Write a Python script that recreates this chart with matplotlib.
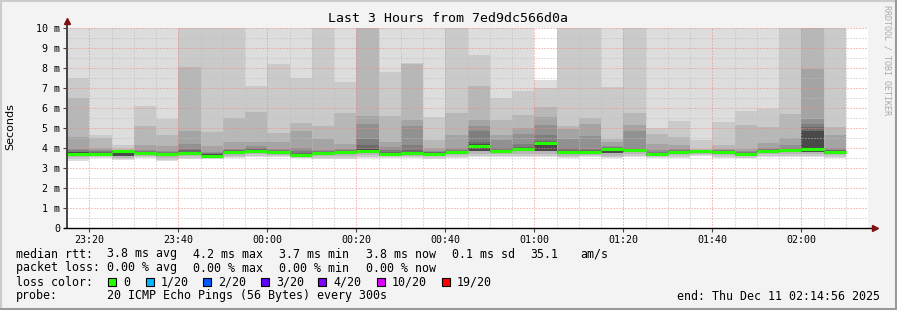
import matplotlib
matplotlib.use('Agg')
import matplotlib.pyplot as plt
from matplotlib.lines import Line2D
from matplotlib.patches import Rectangle

plt.rcParams['font.family'] = ['DejaVu Sans Mono']

W, H = 897, 310

# ----------------------------------- data --------------------------------------
# minutes after 23:15, one 5 minute step per bin
bin_minutes = list(range(0, 175, 5))

# 20 sorted pings per step (ms), outer ranks
ping20 = [12.0, 11.5, 11.0, 11.8, 10.9, 13.0, 12.2, 12.5, 10.6, 11.4, 10.8, 12.0, 11.2, 13.5, 11.0, 12.0, 10.7, 12.1,
          11.3, 10.9, 11.6, 7.4, 12.3, 11.9, 10.8, 11.7, 10.9, 11.0, 10.7, 11.2, 10.9, 11.5, 12.4, 14.0, 12.0]
ping19 = [7.5, 4.65, 4.15, 6.1, 5.45, 11.2, 10.8, 11.0, 7.1, 8.2, 7.5, 10.6, 7.3, 11.8, 7.8, 8.25, 5.55, 10.9,
          8.65, 6.5, 6.85, 7.0, 10.5, 10.7, 7.05, 10.4, 5.0, 5.35, 4.4, 5.3, 5.85, 5.95, 10.8, 12.5, 10.7]
ping18 = [6.5, 4.5, 3.95, 5.1, 4.65, 8.05, 4.8, 5.5, 5.82, 4.75, 5.25, 5.1, 5.75, 10.4, 5.6, 8.2, 4.4, 5.75,
          7.1, 5.4, 5.65, 6.05, 5.1, 5.5, 4.45, 5.75, 4.7, 4.55, 3.95, 4.15, 5.15, 5.05, 5.7, 10.6, 5.05]
ping17 = [4.55, 3.98, 3.9, 4.15, 4.1, 4.85, 4.1, 4.3, 4.3, 4.3, 4.85, 4.45, 4.2, 5.6, 4.3, 5.4, 4.0, 4.65,
          5.4, 4.65, 5.0, 5.55, 4.95, 5.2, 4.3, 5.15, 4.2, 4.15, 3.9, 3.95, 3.95, 4.25, 4.5, 7.95, 4.65]
ping16 = [3.95, 3.9, 3.88, 3.9, 3.85, 4.2, 3.8, 3.95, 4.1, 3.95, 4.0, 3.9, 3.95, 5.2, 4.05, 5.1, 3.85, 4.0,
          5.1, 4.4, 4.7, 5.15, 4.45, 4.6, 4.1, 4.85, 3.9, 3.95, 3.88, 3.9, 3.85, 4.0, 4.15, 5.45, 4.0]
ping15 = [3.88, 3.85, 3.87, 3.85, 3.8, 3.95, 3.75, 3.9, 3.98, 3.9, 3.85, 3.85, 3.9, 4.45, 3.9, 4.15, 3.8, 3.9,
          4.85, 4.0, 4.2, 4.65, 4.0, 3.95, 4.05, 4.0, 3.8, 3.9, 3.87, 3.88, 3.8, 3.95, 4.0, 5.2, 3.92]
ping14 = [3.82, 3.8, 3.86, 3.82, 3.76, 3.88, 3.72, 3.88, 3.93, 3.87, 3.75, 3.82, 3.85, 4.15, 3.8, 3.9, 3.78, 3.87,
          4.3, 3.92, 4.05, 4.35, 3.9, 3.9, 4.02, 3.95, 3.76, 3.86, 3.86, 3.86, 3.77, 3.92, 3.95, 5.05, 3.88]
ping13 = [3.78, 3.76, 3.85, 3.8, 3.72, 3.8, 3.68, 3.85, 3.9, 3.84, 3.7, 3.78, 3.82, 3.95, 3.76, 3.8, 3.75, 3.84,
          4.2, 3.88, 4.0, 4.3, 3.85, 3.86, 4.0, 3.92, 3.72, 3.83, 3.85, 3.84, 3.74, 3.9, 3.92, 4.85, 3.84]
median = [3.72, 3.70, 3.83, 3.75, 3.68, 3.75, 3.62, 3.82, 3.87, 3.80, 3.65, 3.75, 3.78, 3.85, 3.72, 3.73, 3.72, 3.80,
          4.10, 3.85, 3.97, 4.25, 3.80, 3.82, 3.95, 3.88, 3.68, 3.80, 3.83, 3.82, 3.70, 3.87, 3.88, 3.97, 3.80]
ping4 = [3.65, 3.64, 3.6, 3.68, 3.6, 3.68, 3.58, 3.72, 3.8, 3.72, 3.6, 3.68, 3.72, 3.75, 3.66, 3.66, 3.65, 3.72,
         3.85, 3.78, 3.85, 3.85, 3.72, 3.72, 3.75, 3.8, 3.62, 3.72, 3.78, 3.72, 3.64, 3.78, 3.8, 3.82, 3.72]
ping3 = [3.55, 3.6, 3.5, 3.6, 3.5, 3.58, 3.52, 3.62, 3.7, 3.65, 3.55, 3.6, 3.62, 3.65, 3.6, 3.6, 3.58, 3.64,
         3.7, 3.68, 3.72, 3.72, 3.62, 3.66, 3.62, 3.7, 3.58, 3.64, 3.72, 3.64, 3.58, 3.68, 3.7, 3.7, 3.64]
ping2 = [3.45, 3.55, 3.45, 3.55, 3.42, 3.5, 3.48, 3.55, 3.62, 3.6, 3.52, 3.52, 3.52, 3.55, 3.55, 3.55, 3.52, 3.56,
         3.62, 3.62, 3.62, 3.62, 3.55, 3.6, 3.55, 3.6, 3.55, 3.56, 3.66, 3.56, 3.52, 3.6, 3.6, 3.62, 3.56]
ping1 = [3.35, 3.5, 3.42, 3.5, 3.35, 3.45, 3.45, 3.5, 3.55, 3.55, 3.5, 3.45, 3.45, 3.48, 3.5, 3.5, 3.45, 3.5,
         3.55, 3.55, 3.55, 3.55, 3.5, 3.55, 3.5, 3.55, 3.5, 3.5, 3.6, 3.5, 3.48, 3.55, 3.55, 3.55, 3.5]

y_ticks = [0, 1, 2, 3, 4, 5, 6, 7, 8, 9, 10]
y_labels = ['0', '1 m', '2 m', '3 m', '4 m', '5 m', '6 m', '7 m', '8 m', '9 m', '10 m']
x_tick_minutes = [5, 25, 45, 65, 85, 105, 125, 145, 165]
x_labels = ['23:20', '23:40', '00:00', '00:20', '00:40', '01:00', '01:20', '01:40', '02:00']

loss_labels = ['0', '1/20', '2/20', '3/20', '4/20', '10/20', '19/20']
loss_colors = ['#26ff00', '#00b8ff', '#0059ff', '#5e00ff', '#7e00ff', '#dd00ff', '#ff0000']


def px(x, y):
    return x / W, 1 - y / H


fig = plt.figure(figsize=(W / 100, H / 100), dpi=100, facecolor='#f3f3f3')
ax = fig.add_axes([67 / W, (H - 228) / H, 801 / W, 200 / H])
ax.set_facecolor('white')
ax.set_xlim(0, 180)
ax.set_ylim(0, 10)

# ----------------------------------- smoke --------------------------------------
layers = [(ping1, ping20, '#dddddd'), (ping2, ping19, '#cacaca'), (ping3, ping18, '#b7b7b7'),
          (ping4, ping17, '#a4a4a4'), (ping4, ping16, '#919191'), (ping4, ping15, '#7e7e7e'),
          (ping4, ping14, '#6b6b6b'), (ping4, ping13, '#4a4a4a')]
for lo, hi, c in layers:
    ax.bar(bin_minutes, [h - l for l, h in zip(lo, hi)], bottom=lo, width=5, align='edge',
           color=c, linewidth=0, antialiased=False, zorder=1)

# ----------------------------------- grid --------------------------------------
dot = (0, (1, 2))
for m in range(5, 180, 5):
    if m not in x_tick_minutes:
        ax.axvline(m, color='#bfbfbf', lw=0.72, ls=dot, zorder=3)
for v in [0.5 + i for i in range(10)]:
    ax.axhline(v, color='#bfbfbf', lw=0.72, ls=dot, zorder=3)
for m in x_tick_minutes:
    ax.axvline(m, color='#f08a8a', lw=0.72, ls=dot, zorder=3)
for v in y_ticks[1:]:
    ax.axhline(v, color='#f08a8a', lw=0.72, ls=dot, zorder=3)

# median line, coloured by loss
ax.hlines(median, bin_minutes, [m + 5 for m in bin_minutes], colors=loss_colors[0], lw=2.2, zorder=5)

# ----------------------------------- axes --------------------------------------
for s in ax.spines.values():
    s.set_visible(False)
ax.plot([0, 0], [0, 10.35], color='#444444', lw=1.4, clip_on=False, zorder=6)
ax.plot([0], [10.35], marker='^', ms=4, color='#7f1010', clip_on=False, zorder=6)
ax.plot([-0.7, 181.5], [0, 0], color='black', lw=1, clip_on=False, zorder=6)
ax.plot([181.5], [0], marker='>', ms=4, color='#7f1010', clip_on=False, zorder=6)

ax.set_yticks(y_ticks)
ax.set_yticklabels(y_labels)
ax.set_xticks(x_tick_minutes)
ax.set_xticklabels(x_labels)
ax.tick_params(axis='both', length=3, width=0.8, color='#444444', labelsize=7.2, pad=2)

# ----------------------------------- texts --------------------------------------
fig.text(*px(448, 19), 'Last 3 Hours from 7ed9dc566d0a', ha='center', va='center', fontsize=9.5)
fig.text(*px(10, 127), 'Seconds', rotation=90, ha='center', va='center', fontsize=8, family='DejaVu Sans')
fig.text(*px(887, 60), 'RRDTOOL / TOBI OETIKER', rotation=270, ha='center', va='center', fontsize=6,
         color='#aaaaaa')

lab = dict(ha='left', va='center', fontsize=8.4)
fig.text(*px(16, 254), 'median rtt:', **lab)
for x, t in zip([107, 193, 279, 366, 452, 530, 580],
                ['3.8 ms avg', '4.2 ms max', '3.7 ms min', '3.8 ms now', '0.1 ms sd', '35.1', 'am/s']):
    fig.text(*px(x, 254), t, **lab)
fig.text(*px(16, 268), 'packet loss:', **lab)
for x, t in zip([107, 193, 279, 366], ['0.00 % avg', '0.00 % max', '0.00 % min', '0.00 % now']):
    fig.text(*px(x, 268), t, **lab)
fig.text(*px(16, 282), 'loss color:', **lab)
for bx, t, c in zip([108, 146, 203, 261, 318, 377, 442], loss_labels, loss_colors):
    x0, y0 = px(bx, 286)
    fig.add_artist(Rectangle((x0, y0), 8 / W, 8 / H, transform=fig.transFigure,
                             facecolor=c, edgecolor='black', lw=0.8))
    fig.text(*px(bx + 15, 282), t, **lab)
fig.text(*px(16, 296), 'probe:', **lab)
fig.text(*px(107, 296), '20 ICMP Echo Pings (56 Bytes) every 300s', **lab)
fig.text(*px(880, 296), 'end: Thu Dec 11 02:14:56 2025', ha='right', va='center', fontsize=8.4)

# frame
fig.add_artist(Line2D([0, 1], [1 - 1 / H, 1 - 1 / H], transform=fig.transFigure, color='#cccccc', lw=1.5))
fig.add_artist(Line2D([1 / W, 1 / W], [0, 1], transform=fig.transFigure, color='#cccccc', lw=1.5))
fig.add_artist(Line2D([0, 1], [1 / H, 1 / H], transform=fig.transFigure, color='#999999', lw=1.5))
fig.add_artist(Line2D([1 - 1 / W, 1 - 1 / W], [0, 1], transform=fig.transFigure, color='#999999', lw=1.5))

plt.savefig('out.png', dpi=100, facecolor=fig.get_facecolor())
